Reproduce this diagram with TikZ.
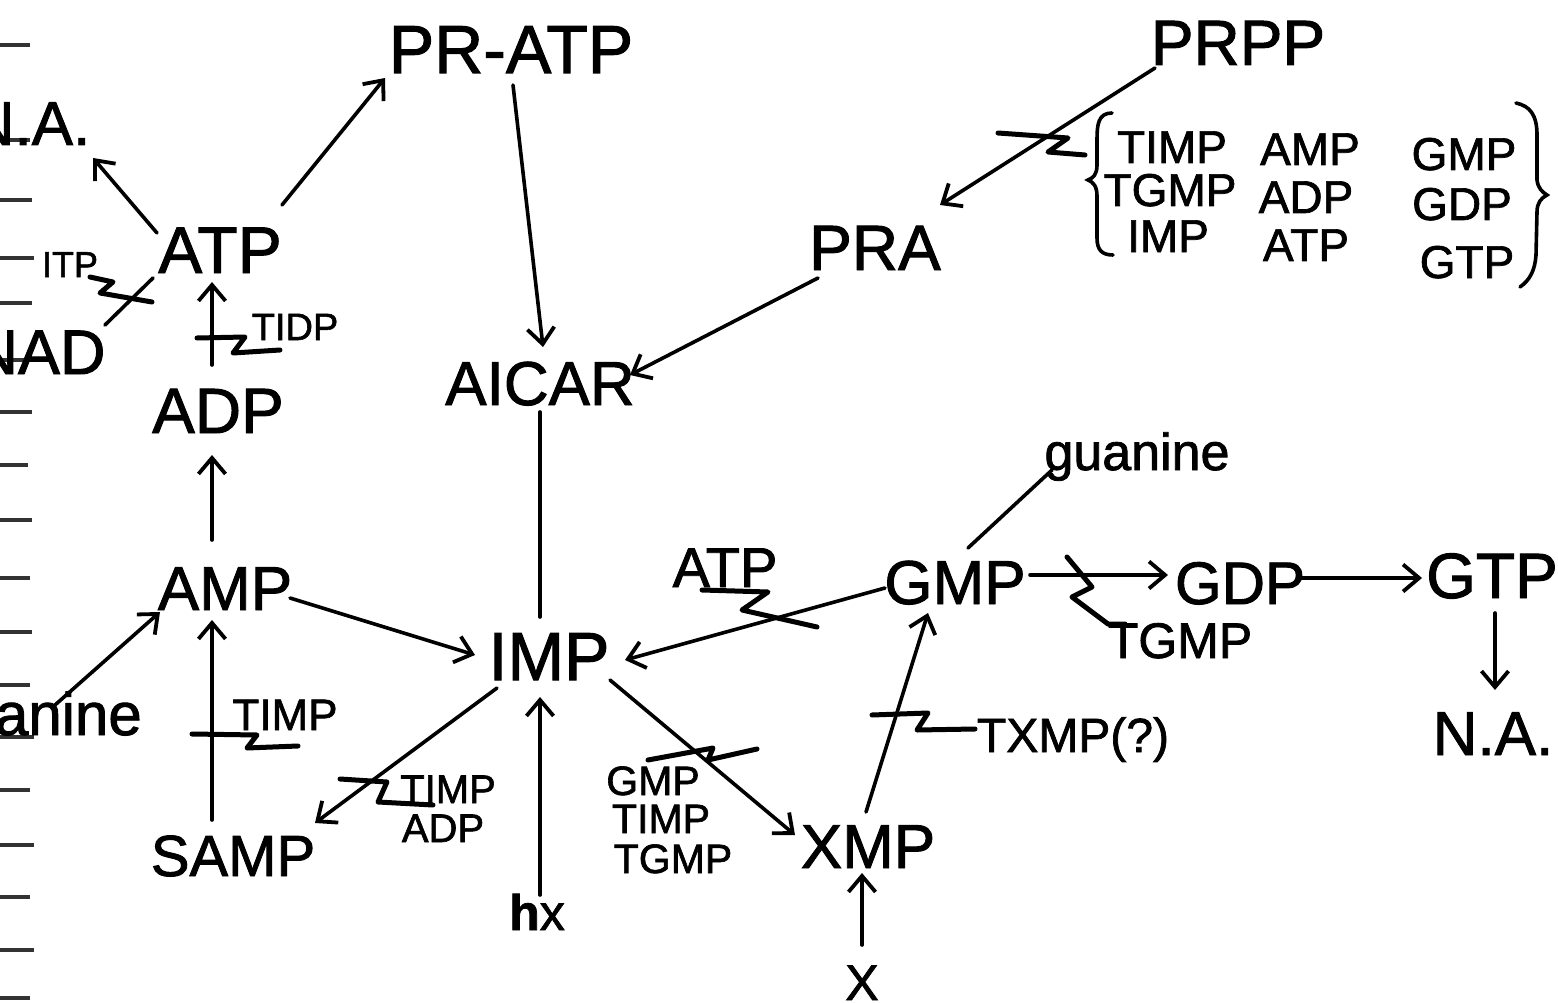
\documentclass[tikz,border=0pt]{standalone}
\usepackage{fontspec}
\setmainfont{Liberation Sans}
\newfontfamily\handf{Liberation Sans}[FakeBold=1.5]
\usetikzlibrary{arrows.meta,calc}
\newcommand\fsz[1]{\handf\fontsize{#1}{#1}\selectfont}
\begin{document}
\begin{tikzpicture}[x=1pt,y=-1pt,
  lab/.style={inner sep=0pt, anchor=base},
  conn/.style={line width=3.6pt, line cap=round},
  arr/.style={conn, -{Straight Barb[length=16pt,width=27pt,line width=3.8pt]}},
  inh/.style={line width=5pt, line cap=round, line join=round},
  edgemark/.style={line width=4pt, black!80}]
\useasboundingbox (0,0) rectangle (1558,1003);
\fill[white] (0,0) rectangle (1558,1003);
\clip (0,0) rectangle (1558,1003);

% ---- edge marks of the sheet
\foreach \yy/\ll in {45/30,140/30,200/32,258/34,303/32,360/30,412/32,465/28,520/32,578/30,632/32,685/30,737/34,790/30,845/34,897/30,950/34,998/30}
  \draw[edgemark] (0,\yy) -- (\ll,\yy);

% ---- nodes
\node[lab,font=\fsz{68}] (PRATP) at (511,73) {PR-ATP};
\node[lab,font=\fsz{64}] (PRPP) at (1238,65) {PRPP};
\node[lab,font=\fsz{62}] (NA1) at (30,145) {N.A.};
\node[lab,font=\fsz{66}] (ATP1) at (220,273) {ATP};
\node[lab,font=\fsz{36}] (ITP) at (70,277) {ITP};
\node[lab,font=\fsz{63}] (NAD) at (39,374) {NAD};
\node[lab,font=\fsz{38}] (TIDP) at (295,340) {TIDP};
\node[lab,font=\fsz{64}] (ADP1) at (218,433) {ADP};
\node[lab,font=\fsz{62}] (AICAR) at (540,405) {AICAR};
\node[lab,font=\fsz{64}] (PRA) at (875,270) {PRA};

\node[lab,font=\fsz{46}] (bTIMP) at (1172,163) {TIMP};
\node[lab,font=\fsz{46}] (bTGMP) at (1170,206) {TGMP};
\node[lab,font=\fsz{46}] (bIMP) at (1168,252) {IMP};
\node[lab,font=\fsz{46}] (bAMP) at (1310,165) {AMP};
\node[lab,font=\fsz{46}] (bADP) at (1306,213) {ADP};
\node[lab,font=\fsz{46}] (bATP) at (1306,261) {ATP};
\node[lab,font=\fsz{46}] (bGMP) at (1464,170) {GMP};
\node[lab,font=\fsz{46}] (bGDP) at (1462,220) {GDP};
\node[lab,font=\fsz{46}] (bGTP) at (1467,278) {GTP};

\node[lab,font=\fsz{52}] (guan2) at (1137,470) {guanine};
\node[lab,font=\fsz{62}] (AMP) at (225,610) {AMP};
\node[lab,font=\fsz{68}] (IMP) at (549,680) {IMP};
\node[lab,font=\fsz{62}] (GMP) at (955,604) {GMP};
\node[lab,font=\fsz{60}] (GDP) at (1240,604) {GDP};
\node[lab,font=\fsz{64}] (GTP) at (1492,598) {GTP};
\node[lab,font=\fsz{56}] (ATPinh) at (725,587) {ATP};
\node[lab,font=\fsz{50}] (TGMP) at (1180,658) {TGMP};
\node[lab,font=\fsz{62}] (NA2) at (1493,755) {N.A.};
\node[lab,font=\fsz{60},anchor=base east] (guan1) at (142,735) {guanine};
\node[lab,font=\fsz{44}] (TIMP1) at (285,730) {TIMP};
\node[lab,font=\fsz{48}] (TXMP) at (1073,752) {TXMP(?)};
\node[lab,font=\fsz{40}] (TIMP2) at (448,803) {TIMP};
\node[lab,font=\fsz{40}] (ADP2) at (443,842) {ADP};
\node[lab,font=\fsz{41}] (GMP3) at (653,795) {GMP};
\node[lab,font=\fsz{41}] (TIMP3) at (661,833) {TIMP};
\node[lab,font=\fsz{41}] (TGMP3) at (673,873) {TGMP};
\node[lab,font=\fsz{58}] (SAMP) at (233,876) {SAMP};
\node[lab,font=\fsz{50}] (hx) at (537,930) {\textbf{h}x};
\node[lab,font=\fsz{62}] (XMP) at (868,868) {XMP};
\node[lab,font=\fsz{50}] (X) at (862,1000) {X};

% ---- connectors
\draw[arr] ($(ATP1.base)+(-63,-40)$) -- ($(NA1.base)+(63,13)$);
\draw[arr] ($(ATP1.base)+(62,-68)$) -- ($(PRATP.base)+(-126,5)$);
\draw[conn] ($(NAD.base)+(66,-49)$) -- ($(ATP1.base)+(-67,5)$);
\draw[arr] ($(ADP1.base)+(-6,-68)$) -- ($(ATP1.base)+(-8,9)$);
\draw[arr] ($(AMP.base)+(-13,-70)$) -- ($(ADP1.base)+(-6,22)$);
\draw[arr] ($(SAMP.base)+(-21,-56)$) -- ($(AMP.base)+(-13,10)$);
\draw[arr] ($(guan1.base east)+(-87,-30)$) -- ($(AMP.base)+(-65,2)$);
\draw[arr] ($(AMP.base)+(65,-12)$) -- ($(IMP.base)+(-74,-25)$);
\draw[arr] ($(PRATP.base)+(2,12)$) -- ($(AICAR.base)+(3,-58)$);
\draw[arr] ($(PRA.base)+(-57,8)$) -- ($(AICAR.base)+(90,-30)$);
\draw[arr] ($(PRPP.base)+(-83,3)$) -- ($(PRA.base)+(65,-65)$);
\draw[conn] ($(AICAR.base)+(0,7)$) -- ($(IMP.base)+(-9,-63)$);
\draw[arr] ($(GMP.base)+(-70,-16)$) -- ($(IMP.base)+(76,-20)$);
\draw[arr] ($(hx.base)+(3,-35)$) -- ($(IMP.base)+(-9,17)$);
\draw[arr] ($(IMP.base)+(-52,8)$) -- ($(SAMP.base)+(82,-53)$);
\draw[arr] ($(IMP.base)+(61,0)$) -- ($(XMP.base)+(-73,-33)$);
\draw[arr] ($(X.base)+(0,-55)$) -- ($(XMP.base)+(-6,5)$);
\draw[arr] ($(XMP.base)+(-2,-56)$) -- ($(GMP.base)+(-27,9)$);
\draw[conn] ($(GMP.base)+(13,-56)$) -- ($(guan2.base)+(-85,0)$);
\draw[arr] ($(GMP.base)+(75,-29)$) -- ($(GDP.base)+(-72,-29)$);
\draw[arr] ($(GDP.base)+(60,-26)$) -- ($(GTP.base)+(-70,-20)$);
\draw[arr] ($(GTP.base)+(3,15)$) -- ($(NA2.base)+(2,-65)$);

% ---- inhibition marks
\draw[inh] ($(ITP.base)+(20,0)$) -- ++(23,5) -- ++(-13,11) -- ++(52,9);
\draw[inh] ($(TIDP.base)+(-98,-2)$) -- ++(48,-1) -- ++(-12,16) -- ++(47,-3);
\draw[inh] ($(TIMP1.base)+(-93,4)$) -- ++(65,1) -- ++(-10,13) -- ++(51,-2);
\draw[inh] ($(TIMP2.base)+(-108,-24)$) -- ++(47,3) -- ++(-9,20) -- ++(55,3);
\draw[inh] ($(ATPinh.base)+(-23,3)$) -- ++(66,2) -- ++(-26,18) -- ++(75,17);
\draw[inh] ($(GMP3.base)+(-5,-35)$) -- ++(65,-12) -- ++(-5,12) -- ++(49,-11);
\draw[inh] ($(TXMP.base)+(-201,-37)$) -- ++(56,-2) -- ++(-11,17) -- ++(58,-1);
\draw[inh] ($(TGMP.base)+(-113,-101)$) -- ++(25,30) -- ++(-20,10) -- ++(36,27) -- ++(17,0);
\draw[inh] ($(bTIMP.base)+(-174,-30)$) -- ++(70,5) -- ++(-20,14) -- ++(37,3);

% ---- brackets around the inhibitor list
\draw[conn] (1112,113) .. controls (1098,113) and (1097,125) .. (1097,140)
  -- (1097,165) .. controls (1097,175) and (1093,178) .. (1088,180)
  .. controls (1093,182) and (1097,186) .. (1097,196)
  -- (1097,238) .. controls (1097,250) and (1102,255) .. (1113,255);
\draw[conn] (1516,103) .. controls (1530,106) and (1537,115) .. (1537,135)
  -- (1537,180) .. controls (1538,188) and (1542,192) .. (1547,195)
  .. controls (1541,198) and (1537,203) .. (1537,212)
  -- (1536,255) .. controls (1535,270) and (1530,280) .. (1520,287);
\end{tikzpicture}
\end{document}
